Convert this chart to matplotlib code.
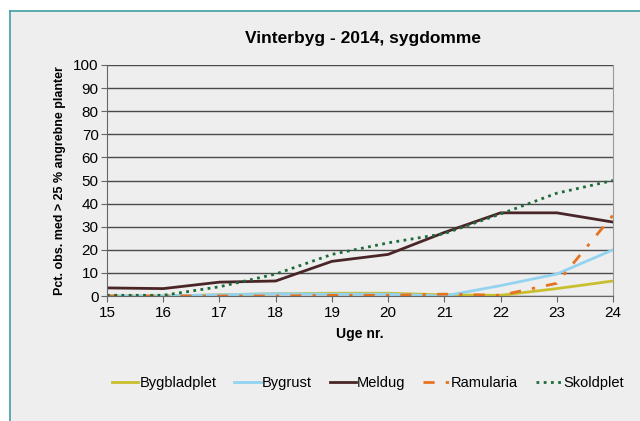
import matplotlib
matplotlib.use("Agg")
import matplotlib.pyplot as plt
from matplotlib.lines import Line2D

plt.rcParams['font.family'] = ['Liberation Sans', 'DejaVu Sans']

weeks = [15, 16, 17, 18, 19, 20, 21, 22, 23, 24]
bygbladplet = [0, 0, 0.5, 1, 1.2, 1.2, 0.5, 0.3, 3.2, 6.5]
bygrust = [0, 0, 0.5, 1, 0.8, 0.8, 0, 4.5, 9.5, 20]
meldug = [3.5, 3.2, 6, 6.5, 15, 18, 27.5, 36, 36, 32]
ramularia = [0, 0, 0, 0, 0.3, 0.3, 0.8, 0.3, 5.5, 35]
skoldplet = [0.3, 0.3, 4, 9.5, 18, 23, 27, 35.5, 44.5, 50]

bg = "#eeeeee"
fig = plt.figure(figsize=(6.4, 4.21), dpi=100)
fig.patch.set_facecolor("white")
# grey panel with teal border on top and left
fig.patches.append(plt.Rectangle((10/640, 0), 1, 1 - 11/421, transform=fig.transFigure,
                                 facecolor=bg, edgecolor="none", zorder=-5))
fig.lines.append(Line2D([10/640, 10/640], [0, 1 - 11/421], transform=fig.transFigure, color="#3f9ea5", lw=1.2))
fig.lines.append(Line2D([10/640, 1], [1 - 11/421, 1 - 11/421], transform=fig.transFigure, color="#3f9ea5", lw=1.2))

ax = fig.add_axes([107/640, 1 - 296/421, (613 - 107)/640, (296 - 65)/421])
ax.set_facecolor(bg)

ax.plot(weeks, bygbladplet, color="#c9bf2e", lw=2, label="Bygbladplet")
ax.plot(weeks, bygrust, color="#93d3f0", lw=2, label="Bygrust")
ax.plot(weeks, meldug, color="#4a2528", lw=2, label="Meldug")
ax.plot(weeks, ramularia, color="#e5731f", lw=2, dashes=(4, 4, 1.2, 4), label="Ramularia")
ax.plot(weeks, skoldplet, color="#1d6b3c", lw=2, linestyle=(0, (1, 1.6)), label="Skoldplet")

ax.set_xlim(15, 24)
ax.set_ylim(0, 100)
ax.set_xticks(weeks)
ax.set_yticks(range(0, 101, 10))
ax.yaxis.grid(True, color="#4a4a4a", lw=1)
ax.set_axisbelow(True)
ax.spines["top"].set_visible(False)
ax.spines["left"].set_color("#666666")
ax.spines["bottom"].set_color("#666666")
ax.spines["right"].set_color("#999999")
ax.tick_params(axis="both", labelsize=11, color="#666666", length=4)
ax.tick_params(axis="x", pad=3)
ax.tick_params(axis="y", pad=2)

ax.set_xlabel("Uge nr.", fontsize=10, fontweight="bold", labelpad=5)
ax.set_ylabel("Pct. obs. med > 25 % angrebne planter", fontsize=9, fontweight="bold", labelpad=5)
fig.text(363/640, 1 - 38/421, "Vinterbyg - 2014, sygdomme", ha="center", va="center",
         fontsize=12.5, fontweight="bold")

fig.legend(loc="center", bbox_to_anchor=(368/640, 1 - 383/421), ncol=5, frameon=False,
           fontsize=10.5, handlelength=1.8, handletextpad=0.1, columnspacing=1.2)

fig.savefig("out.png", dpi=100, facecolor=fig.get_facecolor())
